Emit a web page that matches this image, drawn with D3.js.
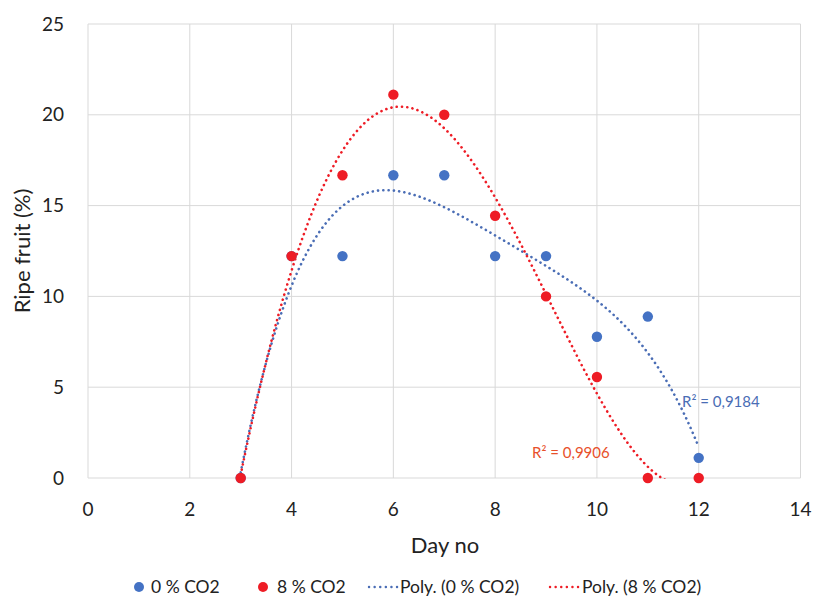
<!DOCTYPE html>
<html>
<head>
<meta charset="utf-8">
<script src="https://cdn.jsdelivr.net/npm/d3@7"></script>
<style>
  body { margin: 0; background: #fff; }
  text { font-family: Lato, "Open Sans", sans-serif; fill: #222; }
</style>
</head>
<body>
<svg id="chart" width="817" height="597"></svg>
<script>
const days = [3, 4, 5, 6, 7, 8, 9, 10, 11, 12]
const co2_0 = [0, 12.22, 12.22, 16.67, 16.67, 12.22, 12.22, 7.78, 8.89, 1.11]
const co2_8 = [0, 12.22, 16.67, 21.11, 20.0, 14.44, 10.0, 5.56, 0, 0]
const xTicks = [0, 2, 4, 6, 8, 10, 12, 14]
const yTicks = [0, 5, 10, 15, 20, 25]

const w = 817, h = 597
const svg = d3.select("#chart")
const x = d3.scaleLinear([0, 14], [88, 800.5])
const y = d3.scaleLinear([0, 25], [478, 24])

// least squares polynomial fit (Excel "Poly." trendline, order 4)
function polyfit(xs, ys, order) {
  const n = order + 1
  const A = d3.range(n).map(() => d3.range(n + 1).map(() => 0))
  xs.forEach((xv, k) => {
    for (let i = 0; i < n; i++) {
      for (let j = 0; j < n; j++) A[i][j] += Math.pow(xv, i + j)
      A[i][n] += ys[k] * Math.pow(xv, i)
    }
  })
  for (let c = 0; c < n; c++) {
    let p = c
    for (let r = c + 1; r < n; r++) if (Math.abs(A[r][c]) > Math.abs(A[p][c])) p = r
    ;[A[c], A[p]] = [A[p], A[c]]
    for (let r = 0; r < n; r++) {
      if (r === c) continue
      const f = A[r][c] / A[c][c]
      for (let k = c; k <= n; k++) A[r][k] -= f * A[c][k]
    }
  }
  return d3.range(n).map((i) => A[i][n] / A[i][i])
}
const evalPoly = (coef, xv) => coef.reduce((s, c, i) => s + c * Math.pow(xv, i), 0)

// gridlines
svg.append("g")
  .selectAll("line")
  .data(yTicks)
  .join("line")
  .attr("x1", x(0)).attr("x2", x(14))
  .attr("y1", (d) => y(d)).attr("y2", (d) => y(d))
  .attr("stroke", "#d9d9d9").attr("stroke-width", 1)
svg.append("g")
  .selectAll("line")
  .data(xTicks)
  .join("line")
  .attr("y1", y(0)).attr("y2", y(25))
  .attr("x1", (d) => x(d)).attr("x2", (d) => x(d))
  .attr("stroke", "#d9d9d9").attr("stroke-width", 1)

// tick labels
svg.append("g")
  .selectAll("text")
  .data(yTicks)
  .join("text")
  .attr("x", 64).attr("y", (d) => y(d))
  .attr("dy", "0.35em")
  .attr("text-anchor", "end")
  .attr("font-size", 19)
  .text((d) => d)
svg.append("g")
  .selectAll("text")
  .data(xTicks)
  .join("text")
  .attr("x", (d) => x(d)).attr("y", 509)
  .attr("dy", "0.35em")
  .attr("text-anchor", "middle")
  .attr("font-size", 19)
  .text((d) => d)

svg.append("text")
  .attr("x", 445).attr("y", 545)
  .attr("dy", "0.35em")
  .attr("text-anchor", "middle")
  .attr("font-size", 22)
  .text("Day no")
svg.append("text")
  .attr("transform", `translate(22, 251) rotate(-90)`)
  .attr("dy", "0.35em")
  .attr("text-anchor", "middle")
  .attr("font-size", 22)
  .text("Ripe fruit (%)")

// trendlines
const series = [
  { vals: co2_0, color: "#4472c4", line: "#4a6db5" },
  { vals: co2_8, color: "#ee1c25", line: "#ee1c25" },
]
svg.append("clipPath").attr("id", "plot")
  .append("rect").attr("x", x(0)).attr("y", y(25)).attr("width", x(14) - x(0)).attr("height", y(0) - y(25) + 1)
series.forEach((s) => {
  const coef = polyfit(days, s.vals, 4)
  const pts = d3.range(3, 12.001, 0.05).map((xv) => [x(xv), y(evalPoly(coef, xv))])
  svg.append("path")
    .attr("clip-path", "url(#plot)")
    .attr("d", d3.line()(pts))
    .attr("fill", "none")
    .attr("stroke", s.line)
    .attr("stroke-width", 2.6)
    .attr("stroke-linecap", "round")
    .attr("stroke-dasharray", "0.1 5.2")
})

// points
series.forEach((s) => {
  svg.append("g")
    .selectAll("circle")
    .data(days)
    .join("circle")
    .attr("cx", (d) => x(d))
    .attr("cy", (d, i) => y(s.vals[i]))
    .attr("r", 5.2)
    .attr("fill", s.color)
})

svg.append("text")
  .attr("x", 682).attr("y", 402)
  .attr("dy", "0.35em")
  .attr("font-size", 15)
  .style("fill", "#4a6db5")
  .text("R² = 0,9184")
svg.append("text")
  .attr("x", 532).attr("y", 453)
  .attr("dy", "0.35em")
  .attr("font-size", 15)
  .style("fill", "#e8502a")
  .text("R² = 0,9906")

// legend
const ly = 587
const leg = svg.append("g")
leg.append("circle").attr("cx", 139).attr("cy", ly).attr("r", 5).attr("fill", "#4472c4")
leg.append("text").attr("x", 151).attr("y", ly).attr("dy", "0.35em").attr("font-size", 17.5).text("0 % CO2")
leg.append("circle").attr("cx", 263).attr("cy", ly).attr("r", 5).attr("fill", "#ee1c25")
leg.append("text").attr("x", 277).attr("y", ly).attr("dy", "0.35em").attr("font-size", 17.5).text("8 % CO2")
leg.append("line").attr("x1", 369).attr("x2", 398).attr("y1", ly).attr("y2", ly)
  .attr("stroke", "#4a6db5").attr("stroke-width", 2.4).attr("stroke-linecap", "round").attr("stroke-dasharray", "0.1 5.5")
leg.append("text").attr("x", 400).attr("y", ly).attr("dy", "0.35em").attr("font-size", 17.5).text("Poly. (0 % CO2)")
leg.append("line").attr("x1", 550).attr("x2", 579).attr("y1", ly).attr("y2", ly)
  .attr("stroke", "#ee1c25").attr("stroke-width", 2.4).attr("stroke-linecap", "round").attr("stroke-dasharray", "0.1 5.5")
leg.append("text").attr("x", 582).attr("y", ly).attr("dy", "0.35em").attr("font-size", 17.5).text("Poly. (8 % CO2)")
</script>
</body>
</html>
